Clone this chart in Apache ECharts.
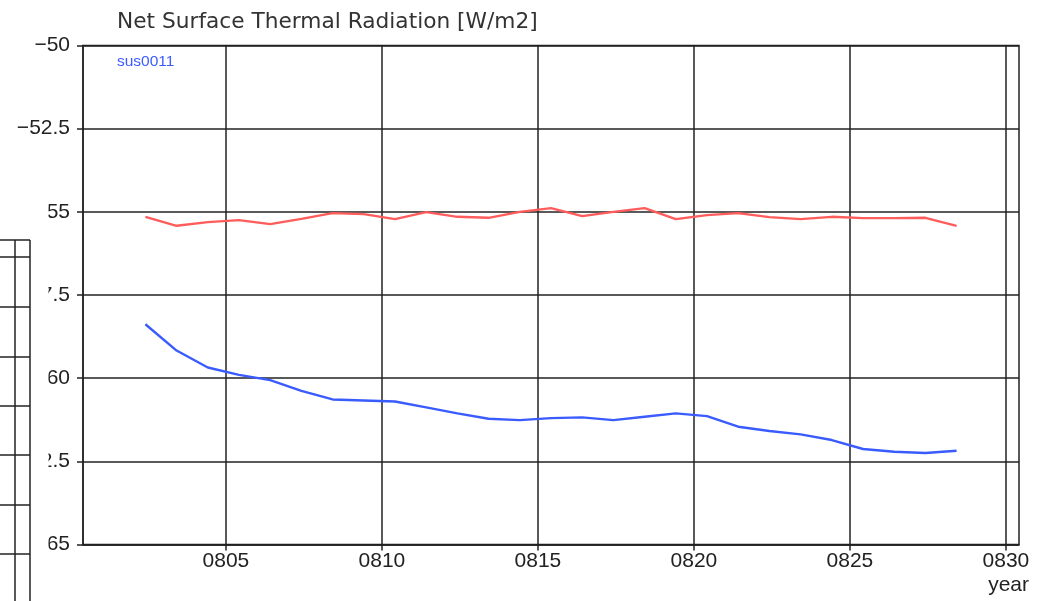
<!DOCTYPE html>
<html>
<head>
<meta charset="utf-8">
<script src="https://cdn.jsdelivr.net/npm/echarts@6/dist/echarts.min.js"></script>
<style>
  html, body { margin: 0; padding: 0; background: #ffffff; }
  #chart { width: 1051px; height: 601px; }
</style>
</head>
<body>
<div id="chart"></div>
<script>
// Annual means, time in model years (mid-year positions)
const years = [802.42, 803.42, 804.42, 805.42, 806.42, 807.42, 808.42, 809.42, 810.42,
  811.42, 812.42, 813.42, 814.42, 815.42, 816.42, 817.42, 818.42, 819.42, 820.42,
  821.42, 822.42, 823.42, 824.42, 825.42, 826.42, 827.42, 828.42];

// Reference run (red)
const refValues = [-55.15, -55.42, -55.31, -55.25, -55.37, -55.21, -55.04, -55.07, -55.22,
  -55.01, -55.15, -55.18, -55.00, -54.89, -55.13, -55.00, -54.89, -55.22, -55.10,
  -55.04, -55.16, -55.22, -55.15, -55.19, -55.19, -55.18, -55.42];

// Experiment sus0011 (blue)
const susValues = [-58.38, -59.17, -59.68, -59.90, -60.06, -60.38, -60.64, -60.67, -60.70,
  -60.88, -61.06, -61.22, -61.26, -61.20, -61.18, -61.26, -61.16, -61.06, -61.14,
  -61.46, -61.59, -61.69, -61.86, -62.13, -62.21, -62.25, -62.18];

const xTicks = [805, 810, 815, 820, 825, 830];
const titleText = 'Net Surface Thermal Radiation [W/m2]';
const expName = 'sus0011';
const refName = 'reference';
const xName = 'year';

const lineColor = '#222222';
const labelFont = 'Liberation Sans';

const chart = echarts.init(document.getElementById('chart'), null, { renderer: 'canvas' });

const zip = (xs, ys) => xs.map((x, i) => [x, ys[i]]);

// Frame of the neighbouring panel peeking in at the left edge
const sidePanelRows = [240, 257, 307, 357, 406, 455, 505, 554];
const sideGraphics = [
  { type: 'rect', shape: { x: 0, y: 165, width: 48.5, height: 436 }, style: { fill: '#ffffff' }, z: 100 },
  { type: 'line', shape: { x1: 15, y1: 240, x2: 15, y2: 601 }, style: { stroke: lineColor, lineWidth: 1.5 }, z: 101 },
  { type: 'line', shape: { x1: 30, y1: 240, x2: 30, y2: 601 }, style: { stroke: lineColor, lineWidth: 1.5 }, z: 101 }
].concat(sidePanelRows.map(y => ({
  type: 'line', shape: { x1: 0, y1: y, x2: 30, y2: y },
  style: { stroke: lineColor, lineWidth: 1.5 }, z: 101
})));

chart.setOption({
  animation: false,
  backgroundColor: '#ffffff',
  title: {
    text: titleText,
    left: 112,
    top: 6,
    textStyle: { fontFamily: 'DejaVu Sans', fontSize: 21.7, fontWeight: 'normal', color: '#333333' }
  },
  legend: {
    data: [expName],
    left: 107,
    top: 49,
    icon: 'none',
    itemWidth: 0,
    itemHeight: 0,
    textStyle: { fontFamily: labelFont, fontSize: 15.5, color: '#3c5cff' }
  },
  grid: {
    left: 83, top: 45.5, width: 936, height: 499,
    show: true, borderColor: lineColor, borderWidth: 1.5, backgroundColor: 'transparent'
  },
  xAxis: {
    type: 'value',
    min: 800.42,
    max: 830.42,
    axisLine: { show: true, lineStyle: { color: lineColor, width: 1.5 } },
    axisTick: { show: true, inside: false, length: 6, customValues: xTicks, lineStyle: { color: lineColor, width: 1.5 } },
    axisLabel: {
      customValues: xTicks,
      margin: 6,
      fontFamily: labelFont, fontSize: 21, color: '#222222',
      formatter: v => '0' + Math.round(v)
    },
    splitLine: { show: true, lineStyle: { color: lineColor, width: 1.5 } }
  },
  yAxis: {
    type: 'value',
    min: -65,
    max: -50,
    interval: 2.5,
    axisLine: { show: true, lineStyle: { color: lineColor, width: 1.5 } },
    axisTick: { show: true, inside: false, length: 6, lineStyle: { color: lineColor, width: 1.5 } },
    axisLabel: {
      margin: 13,
      fontFamily: labelFont, fontSize: 21, color: '#222222',
      formatter: v => (v < 0 ? '\u2212' : '') + Math.abs(v)
    },
    splitLine: { show: true, lineStyle: { color: lineColor, width: 1.5 } }
  },
  series: [
    {
      name: refName,
      type: 'line',
      data: zip(years, refValues),
      showSymbol: false,
      symbol: 'none',
      lineStyle: { color: '#ff5c5c', width: 2.4 },
      itemStyle: { color: '#ff5c5c' },
      z: 3
    },
    {
      name: expName,
      type: 'line',
      data: zip(years, susValues),
      showSymbol: false,
      symbol: 'none',
      lineStyle: { color: '#3a5cff', width: 2.4 },
      itemStyle: { color: '#3c5cff' },
      z: 4
    }
  ],
  graphic: sideGraphics.concat([
    {
      type: 'text', right: 22, top: 575, z: 50,
      style: { text: xName, fontFamily: labelFont, fontSize: 21, fill: '#222222' }
    }
  ])
});
</script>
</body>
</html>
